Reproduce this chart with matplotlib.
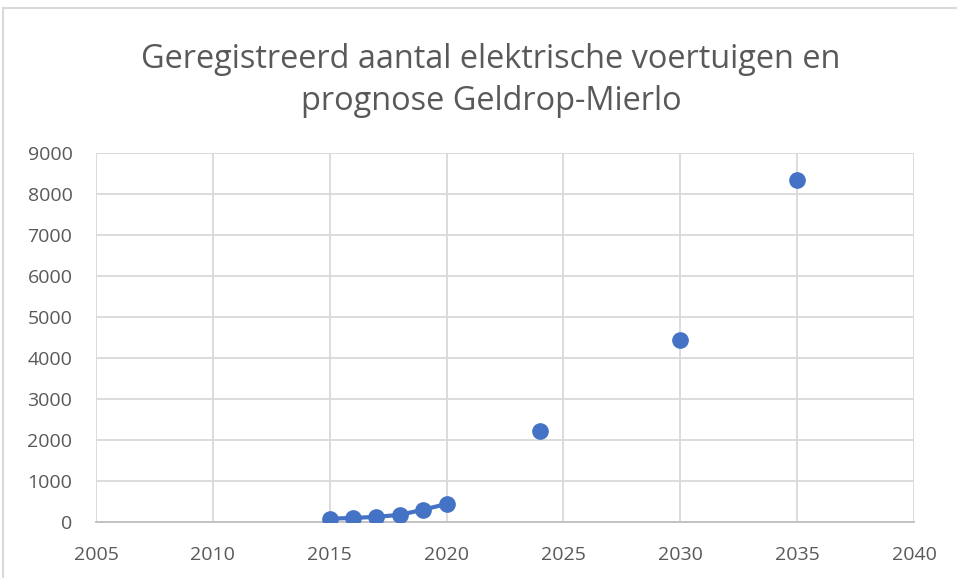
import matplotlib
matplotlib.use("Agg")
import matplotlib.pyplot as plt
from matplotlib.patches import Rectangle

years_hist = [2015, 2016, 2017, 2018, 2019, 2020]
values_hist = [80, 100, 125, 175, 300, 440]
years_prog = [2024, 2030, 2035]
values_prog = [2220, 4450, 8340]
xticks = [2005, 2010, 2015, 2020, 2025, 2030, 2035, 2040]
yticks = [0, 1000, 2000, 3000, 4000, 5000, 6000, 7000, 8000, 9000]
title = "Geregistreerd aantal elektrische voertuigen en\nprognose Geldrop-Mierlo"

plt.rcParams['font.family'] = ['Open Sans', 'DejaVu Sans']
fig = plt.figure(figsize=(9.57, 5.78), dpi=100)
fig.patches.append(Rectangle((3/957, -0.1), 1.2, (578-8)/578 + 0.1, transform=fig.transFigure,
                             fill=False, edgecolor='#d9d9d9', linewidth=1.5))
ax = fig.add_axes([96/957, (578-522)/578, (914-96)/957, (522-153)/578])
blue = '#4472C4'
ax.plot(years_hist, values_hist, color=blue, linewidth=3, marker='o', markersize=11, zorder=3)
ax.plot(years_prog, values_prog, linestyle='none', color=blue, marker='o', markersize=11, zorder=3)
ax.set_xlim(2005, 2040)
ax.set_ylim(0, 9000)
ax.set_xticks(xticks)
ax.set_yticks(yticks)
ax.grid(True, color='#d9d9d9', linewidth=1.3)
ax.set_axisbelow(True)
for s in ['top', 'right', 'left']:
    ax.spines[s].set_visible(False)
ax.spines['bottom'].set_color('#bfbfbf')
ax.spines['bottom'].set_linewidth(1.3)
ax.tick_params(length=0, labelsize=14, labelcolor='#595959')
ax.tick_params(axis='x', pad=17)
ax.tick_params(axis='y', pad=17)
fig.text(0.513, 0.861, title, ha='center', va='center', fontsize=23.4, color='#595959', linespacing=1.38)
fig.savefig('out.png', dpi=100)
